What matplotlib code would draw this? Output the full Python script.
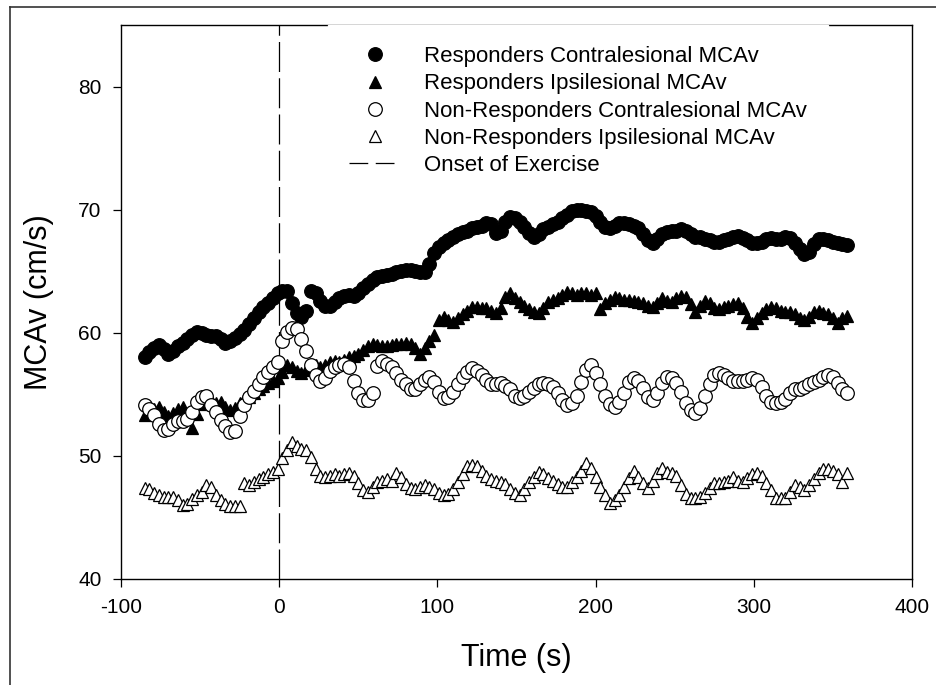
import numpy as np
import matplotlib
matplotlib.use("Agg")
import matplotlib.pyplot as plt
from matplotlib.lines import Line2D

plt.rcParams['font.family'] = ['Liberation Sans', 'DejaVu Sans']
plt.rcParams['axes.unicode_minus'] = False

# time axis (s), sampled every 3 s
time_s = np.arange(-85, 361, 3)

resp_contra = [
    58.0, 58.4, 58.8, 59.0, 58.7, 58.3, 58.5, 58.9, 59.2, 59.5,
    59.8, 60.1, 60.0, 59.8, 59.7, 59.7, 59.5, 59.2, 59.3, 59.6,
    59.9, 60.2, 60.7, 61.2, 61.7, 62.1, 62.4, 62.8, 63.2, 63.4,
    63.4, 62.4, 61.6, 61.3, 61.8, 63.4, 63.2, 62.6, 62.2, 62.2,
    62.5, 62.8, 63.0, 63.1, 63.0, 63.2, 63.6, 64.0, 64.3, 64.5,
    64.6, 64.7, 64.8, 64.9, 65.0, 65.1, 65.1, 65.0, 64.9, 64.9,
    65.6, 66.5, 67.0, 67.3, 67.5, 67.8, 68.0, 68.2, 68.3, 68.5,
    68.6, 68.7, 68.9, 68.8, 68.1, 68.3, 69.0, 69.4, 69.3, 69.0,
    68.6, 68.1, 67.8, 68.0, 68.4, 68.6, 68.8, 69.0, 69.3, 69.6,
    69.9, 70.0, 70.0, 69.9, 69.8, 69.5, 69.0, 68.6, 68.5, 68.7,
    68.9, 68.9, 68.8, 68.7, 68.5, 68.0, 67.5, 67.3, 67.6, 68.0,
    68.2, 68.3, 68.3, 68.4, 68.3, 68.0, 67.8, 67.8, 67.6, 67.5,
    67.4, 67.4, 67.5, 67.6, 67.8, 67.9, 67.7, 67.5, 67.3, 67.3,
    67.4, 67.6, 67.7, 67.6, 67.6, 67.8, 67.7, 67.3, 66.8, 66.4,
    66.6, 67.2, 67.6, 67.6, 67.5, 67.4, 67.3, 67.2, 67.1,
]

resp_ipsi = [
    53.3, 53.6, 53.8, 54.0, 53.6, 53.2, 53.5, 53.8, 54.0, 53.2,
    52.3, 53.4, 54.2, 54.6, 54.5, 54.3, 54.4, 54.0, 53.7, 53.9,
    54.3, 54.6, 54.8, 55.1, 55.4, 55.7, 55.9, 56.1, 56.3, 56.8,
    57.4, 57.2, 56.9, 56.7, 57.0, 57.3, 57.4, 57.2, 57.4, 57.6,
    57.7, 57.6, 57.8, 58.0, 58.1, 58.3, 58.6, 58.9, 59.1, 59.0,
    58.9, 58.9, 59.0, 59.1, 59.1, 59.2, 59.1, 58.8, 58.3, 58.8,
    59.3, 59.8, 61.0, 61.3, 61.0, 60.9, 61.2, 61.5, 61.8, 62.1,
    62.1, 62.0, 62.0, 61.8, 61.6, 62.0, 62.9, 63.2, 62.8, 62.5,
    62.2, 61.9, 61.7, 61.6, 62.0, 62.5, 62.7, 62.8, 63.1, 63.3,
    63.2, 63.1, 63.2, 63.2, 63.1, 63.2, 61.9, 62.4, 62.7, 62.9,
    62.8, 62.7, 62.7, 62.6, 62.5, 62.4, 62.2, 62.1, 62.4, 62.8,
    62.6, 62.5, 62.8, 63.0, 62.9, 62.3, 61.7, 62.2, 62.6, 62.4,
    62.0, 61.9, 62.1, 62.2, 62.3, 62.4, 62.0, 61.3, 60.8, 61.2,
    61.6, 61.9, 62.1, 62.0, 61.8, 61.7, 61.7, 61.5, 61.2, 61.0,
    61.3, 61.7, 61.8, 61.6, 61.5, 61.2, 60.8, 61.2, 61.4,
]

nonresp_contra = [
    54.1, 53.8, 53.3, 52.6, 52.1, 52.2, 52.6, 52.8, 52.8, 53.0,
    53.6, 54.4, 54.8, 54.9, 54.1, 53.6, 52.9, 52.4, 51.9, 52.0,
    53.2, 54.1, 54.8, 55.3, 55.8, 56.4, 56.8, 57.2, 57.6, 59.3,
    60.1, 60.4, 60.3, 59.5, 58.5, 57.4, 56.6, 56.1, 56.3, 56.9,
    57.2, 57.4, 57.5, 57.2, 56.1, 55.1, 54.5, 54.5, 55.1, 57.3,
    57.7, 57.5, 57.2, 56.7, 56.2, 55.8, 55.4, 55.4, 55.8, 56.2,
    56.4, 56.0, 55.2, 54.7, 54.8, 55.2, 55.8, 56.4, 56.8, 57.1,
    56.9, 56.6, 56.2, 55.8, 55.8, 55.9, 55.7, 55.4, 54.9, 54.7,
    54.9, 55.2, 55.5, 55.8, 55.9, 55.8, 55.6, 55.1, 54.5, 54.1,
    54.3, 54.9, 56.0, 57.0, 57.4, 56.7, 55.8, 54.9, 54.2, 54.0,
    54.4, 55.1, 56.0, 56.3, 56.1, 55.5, 54.8, 54.5, 55.1, 55.9,
    56.4, 56.3, 55.9, 55.2, 54.3, 53.7, 53.5, 53.9, 54.9, 55.8,
    56.6, 56.7, 56.6, 56.3, 56.1, 56.1, 56.1, 56.2, 56.3, 56.2,
    55.6, 54.9, 54.4, 54.3, 54.4, 54.6, 55.1, 55.4, 55.4, 55.6,
    55.8, 56.0, 56.2, 56.4, 56.6, 56.4, 55.9, 55.4, 55.1,
]

nonresp_ipsi = [
    47.4, 47.3, 47.0, 46.8, 46.7, 46.7, 46.7, 46.4, 46.0, 46.1,
    46.5, 46.8, 47.1, 47.6, 47.5, 46.8, 46.4, 46.1, 45.9, 45.9,
    45.9, 47.8, 47.6, 47.9, 48.1, 48.3, 48.5, 48.7, 48.9, 49.8,
    50.5, 51.1, 50.8, 50.6, 50.5, 49.9, 48.9, 48.4, 48.3, 48.4,
    48.5, 48.4, 48.5, 48.6, 48.4, 47.8, 47.2, 47.1, 47.5, 47.9,
    48.0, 48.1, 48.0, 48.6, 48.3, 47.7, 47.4, 47.3, 47.5, 47.6,
    47.5, 47.3, 47.0, 46.8, 46.9, 47.3, 47.9, 48.5, 49.2, 49.3,
    49.2, 48.8, 48.4, 48.1, 48.0, 47.9, 47.7, 47.3, 47.0, 46.8,
    47.3, 47.9, 48.3, 48.7, 48.5, 48.2, 48.0, 47.7, 47.5, 47.5,
    47.9, 48.3, 48.8, 49.4, 49.0, 48.3, 47.5, 46.8, 46.2, 46.4,
    46.8, 47.5, 48.2, 48.8, 48.3, 47.8, 47.4, 48.0, 48.6, 49.0,
    48.7, 48.6, 48.4, 47.6, 46.9, 46.6, 46.55, 46.7, 47.0, 47.4,
    47.8, 47.8, 47.9, 48.0, 48.3, 48.0, 47.9, 48.2, 48.5, 48.6,
    48.4, 47.8, 47.2, 46.6, 46.55, 46.6, 47.1, 47.6, 47.5, 47.2,
    47.6, 48.1, 48.6, 48.9, 48.9, 48.8, 48.5, 47.9, 48.6,
]

labels = [
    "Responders Contralesional MCAv",
    "Responders Ipsilesional MCAv",
    "Non-Responders Contralesional MCAv",
    "Non-Responders Ipsilesional MCAv",
    "Onset of Exercise",
]
x_ticks = [-100, 0, 100, 200, 300, 400]
y_ticks = [40, 50, 60, 70, 80]

fig = plt.figure(figsize=(9.36, 6.85), dpi=100)
ax = fig.add_axes([121/936, 1 - 579/685, (912-121)/936, (579-25)/685])

mew = 0.9
h1, = ax.plot(time_s, resp_contra, 'o', ms=9.8, mfc='black', mec='black', mew=mew, ls='none')
h2, = ax.plot(time_s, resp_ipsi, '^', ms=9.2, mfc='black', mec='black', mew=mew, ls='none')
h3, = ax.plot(time_s, nonresp_contra, 'o', ms=9.8, mfc='white', mec='black', mew=mew, ls='none')
h4, = ax.plot(time_s, nonresp_ipsi, '^', ms=9.2, mfc='white', mec='black', mew=mew, ls='none')
ax.axvline(0, color='black', lw=0.9, dashes=(24, 5), zorder=0.5)
h5 = Line2D([], [], color='black', lw=0.9, dashes=(15, 6))

ax.set_xlim(-100, 400)
ax.set_ylim(40, 85)
ax.set_xticks(x_ticks)
ax.set_yticks(y_ticks)
ax.tick_params(direction='out', length=6, width=0.9, labelsize=15, pad=8)
for s in ax.spines.values():
    s.set_linewidth(1.0)

ax.set_xlabel("Time (s)", fontsize=22)
ax.set_ylabel("MCAv (cm/s)", fontsize=22)
ax.xaxis.set_label_coords(0.5, -0.115)
ax.yaxis.set_label_coords(-0.085, 0.5)

leg = ax.legend([h1, h2, h3, h4, h5], labels, loc='upper left',
                bbox_to_anchor=(0.262, 1.0), borderaxespad=0,
                fontsize=16, frameon=True, fancybox=False,
                facecolor='white', edgecolor='white', framealpha=1,
                handlelength=2.3, handletextpad=1.05, labelspacing=0.28,
                borderpad=0.95)
leg.set_zorder(5)

# outer frame lines
fig.add_artist(Line2D([10/936, 10/936], [0, 1 - 7/685], color='#333333', lw=1.2))
fig.add_artist(Line2D([10/936, 1], [1 - 7/685, 1 - 7/685], color='#333333', lw=1.2))

fig.savefig("out.png", dpi=100)
